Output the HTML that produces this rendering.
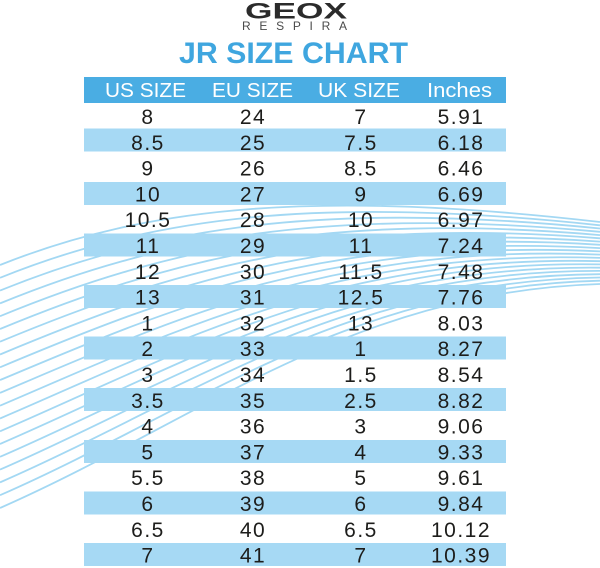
<!DOCTYPE html>
<html>
<head>
<meta charset="utf-8">
<style>
html,body{margin:0;padding:0;background:#fff;}
body{width:600px;height:568px;overflow:hidden;}
svg{display:block;}
text{font-family:"Liberation Sans",sans-serif;}
</style>
</head>
<body>
<svg width="600" height="568" viewBox="0 0 600 568" xmlns="http://www.w3.org/2000/svg">
<rect width="600" height="568" fill="#ffffff"/>
<g fill="none" stroke="#a3d8f3" stroke-width="1.8">
<path d="M0,265 C150,205 320,190 600,222"/>
<path d="M0,277.8 C152.6,216.3 321.6,195.4 600,225.3"/>
<path d="M0,290.6 C155.3,227.6 323.2,200.7 600,228.5"/>
<path d="M0,303.4 C157.9,238.9 324.7,206.1 600,231.8"/>
<path d="M0,316.2 C160.5,250.3 326.3,211.5 600,235.1"/>
<path d="M0,329 C163.2,261.6 327.9,216.8 600,238.3"/>
<path d="M0,341.7 C165.8,272.9 329.5,222.2 600,241.6"/>
<path d="M0,354.5 C168.4,284.2 331.1,227.6 600,244.8"/>
<path d="M0,367.3 C171.1,295.5 332.6,233 600,248.1"/>
<path d="M0,380.1 C173.7,306.8 334.2,238.3 600,251.4"/>
<path d="M0,392.9 C176.3,318.2 335.8,243.7 600,254.6"/>
<path d="M0,405.7 C178.9,329.5 337.4,249.1 600,257.9"/>
<path d="M0,418.5 C181.6,340.8 338.9,254.4 600,261.2"/>
<path d="M0,431.3 C184.2,352.1 340.5,259.8 600,264.4"/>
<path d="M0,444 C186.8,363.4 342.1,265.2 600,267.7"/>
<path d="M0,456.8 C189.5,374.7 343.7,270.5 600,270.9"/>
<path d="M0,469.6 C192.1,386.1 345.3,275.9 600,274.2"/>
<path d="M0,482.4 C194.7,397.4 346.8,281.3 600,277.5"/>
<path d="M0,495.2 C197.4,408.7 348.4,286.6 600,280.7"/>
<path d="M0,508 C200,420 350,292 600,284"/>
</g>

<!-- Logo -->
<text x="245" y="18.5" font-size="22" font-weight="bold" fill="#2b2b2b" textLength="102" lengthAdjust="spacingAndGlyphs">GEOX</text>
<text x="242" y="30" font-size="12" fill="#4a4a4a" textLength="105" lengthAdjust="spacing">RESPIRA</text>

<!-- Title -->
<text x="179" y="63" font-size="30" font-weight="bold" fill="#3fa6df" textLength="229" lengthAdjust="spacingAndGlyphs">JR SIZE CHART</text>

<!-- Header -->
<rect x="84" y="77" width="422" height="26" fill="#4aade3"/>
<g fill="#ffffff" font-size="20" text-anchor="middle">
<text x="145.5" y="97" textLength="81" lengthAdjust="spacingAndGlyphs">US SIZE</text>
<text x="252.5" y="97" textLength="81" lengthAdjust="spacingAndGlyphs">EU SIZE</text>
<text x="359" y="97" textLength="82" lengthAdjust="spacingAndGlyphs">UK SIZE</text>
<text x="459.5" y="97" textLength="65" lengthAdjust="spacingAndGlyphs">Inches</text>
</g>

<!-- Bands -->
<g fill="#a6d9f4">
<rect x="84" y="128.5" width="422" height="23"/>
<rect x="84" y="182" width="422" height="23"/>
<rect x="84" y="233.5" width="422" height="23"/>
<rect x="84" y="285" width="422" height="23"/>
<rect x="84" y="336.5" width="422" height="23"/>
<rect x="84" y="388" width="422" height="23"/>
<rect x="84" y="440" width="422" height="23"/>
<rect x="84" y="491.5" width="422" height="23"/>
<rect x="84" y="543" width="422" height="23"/>
</g>

<!-- Data -->
<g fill="#1d1d1b" font-size="21" text-anchor="middle" letter-spacing="1.5">
<text x="148" y="124">8</text><text x="253" y="124">24</text><text x="361" y="124">7</text><text x="461" y="124">5.91</text>
<text x="148" y="149.8">8.5</text><text x="253" y="149.8">25</text><text x="361" y="149.8">7.5</text><text x="461" y="149.8">6.18</text>
<text x="148" y="175.6">9</text><text x="253" y="175.6">26</text><text x="361" y="175.6">8.5</text><text x="461" y="175.6">6.46</text>
<text x="148" y="201.4">10</text><text x="253" y="201.4">27</text><text x="361" y="201.4">9</text><text x="461" y="201.4">6.69</text>
<text x="148" y="227.2">10.5</text><text x="253" y="227.2">28</text><text x="361" y="227.2">10</text><text x="461" y="227.2">6.97</text>
<text x="148" y="253">11</text><text x="253" y="253">29</text><text x="361" y="253">11</text><text x="461" y="253">7.24</text>
<text x="148" y="278.8">12</text><text x="253" y="278.8">30</text><text x="361" y="278.8">11.5</text><text x="461" y="278.8">7.48</text>
<text x="148" y="304.6">13</text><text x="253" y="304.6">31</text><text x="361" y="304.6">12.5</text><text x="461" y="304.6">7.76</text>
<text x="148" y="330.4">1</text><text x="253" y="330.4">32</text><text x="361" y="330.4">13</text><text x="461" y="330.4">8.03</text>
<text x="148" y="356.2">2</text><text x="253" y="356.2">33</text><text x="361" y="356.2">1</text><text x="461" y="356.2">8.27</text>
<text x="148" y="382">3</text><text x="253" y="382">34</text><text x="361" y="382">1.5</text><text x="461" y="382">8.54</text>
<text x="148" y="407.8">3.5</text><text x="253" y="407.8">35</text><text x="361" y="407.8">2.5</text><text x="461" y="407.8">8.82</text>
<text x="148" y="433.6">4</text><text x="253" y="433.6">36</text><text x="361" y="433.6">3</text><text x="461" y="433.6">9.06</text>
<text x="148" y="459.4">5</text><text x="253" y="459.4">37</text><text x="361" y="459.4">4</text><text x="461" y="459.4">9.33</text>
<text x="148" y="485.2">5.5</text><text x="253" y="485.2">38</text><text x="361" y="485.2">5</text><text x="461" y="485.2">9.61</text>
<text x="148" y="511">6</text><text x="253" y="511">39</text><text x="361" y="511">6</text><text x="461" y="511">9.84</text>
<text x="148" y="536.8">6.5</text><text x="253" y="536.8">40</text><text x="361" y="536.8">6.5</text><text x="461" y="536.8">10.12</text>
<text x="148" y="562.6">7</text><text x="253" y="562.6">41</text><text x="361" y="562.6">7</text><text x="461" y="562.6">10.39</text>
</g>
</svg>
</body>
</html>
